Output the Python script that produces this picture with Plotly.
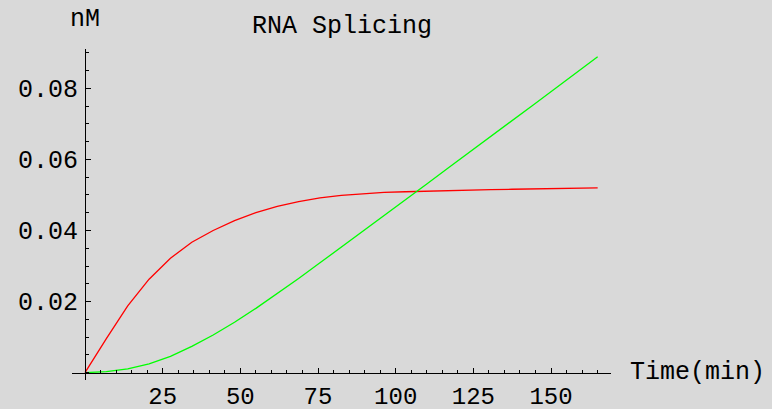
import plotly.graph_objects as go

# Data
time_min = [0, 6.875, 13.75, 20.625, 27.5, 34.375, 41.25, 48.125, 55, 61.875,
            68.75, 75.625, 82.5, 89.375, 96.25, 103.125, 110, 116.875, 123.75,
            130.625, 137.5, 144.375, 151.25, 158.125, 165]
red_series = [0, 0.0096, 0.0188, 0.0263, 0.0322, 0.0367, 0.0400, 0.0428, 0.0450,
              0.0468, 0.0481, 0.0492, 0.0499, 0.0504, 0.0507, 0.0509, 0.0511,
              0.0513, 0.0514, 0.0515, 0.0516, 0.0517, 0.0518, 0.0519, 0.0520]
green_series = [0, 0.0003, 0.0011, 0.0025, 0.0046, 0.0074, 0.0106, 0.0142, 0.0181,
                0.0222, 0.0265, 0.0309, 0.0353, 0.0397, 0.0442, 0.0487, 0.0531,
                0.0576, 0.0620, 0.0665, 0.0710, 0.0754, 0.0799, 0.0844, 0.0889]
x_tickvals = [25, 50, 75, 100, 125, 150]
x_ticktext = ["25", "50", "75", "100", "125", "150"]
y_tickvals = [0.02, 0.04, 0.06, 0.08]
y_ticktext = ["0.02", "0.04", "0.06", "0.08"]

FONT = "Nimbus Mono PS, Courier New, Courier, Liberation Mono, monospace"
FS = 25
BG = "#d9d9d9"

fig = go.Figure()
fig.add_trace(go.Scatter(x=time_min, y=red_series, mode="lines",
                         line=dict(color="#ff0000", width=1.3), showlegend=False))
fig.add_trace(go.Scatter(x=time_min, y=green_series, mode="lines",
                         line=dict(color="#00ff00", width=1.3), showlegend=False))

W, H = 772, 409
L, R, T, B = 72, 161, 49, 29
px_per_x = 3.107
px_per_y = 3555.0
ox, oy = 85, 372.7  # origin in pixels
xr = [-(ox - L) / px_per_x, (W - R - ox) / px_per_x]
yr = [-((H - B) - oy) / px_per_y, (oy - T) / px_per_y]
plot_w = W - L - R
plot_h = H - T - B

fig.update_layout(
    width=W, height=H,
    margin=dict(l=L, r=R, t=T, b=B, pad=0, autoexpand=False),
    paper_bgcolor=BG, plot_bgcolor=BG,
    font=dict(family=FONT, size=FS, color="black"),
    xaxis=dict(range=xr, anchor="free", position=((H - B) - oy) / plot_h,
               automargin=False,
               showgrid=False, zeroline=False, showline=True, linecolor="black",
               linewidth=1, tickmode="array", tickvals=x_tickvals, ticktext=x_ticktext,
               ticks="inside", ticklen=5, tickcolor="black", tickwidth=1,
               minor=dict(ticks="inside", ticklen=3, dtick=5, tick0=0,
                          tickcolor="black", showgrid=False),
               tickfont=dict(family=FONT, size=24), ticklabelstandoff=1),
    yaxis=dict(range=yr, anchor="free", position=(ox - L) / plot_w,
               automargin=False,
               showgrid=False, zeroline=False, showline=True, linecolor="black",
               linewidth=1, tickmode="array", tickvals=y_tickvals, ticktext=y_ticktext,
               ticks="inside", ticklen=5, tickcolor="black", tickwidth=1,
               minor=dict(ticks="inside", ticklen=3, dtick=0.005, tick0=0,
                          tickcolor="black", showgrid=False),
               tickfont=dict(family=FONT, size=FS), ticklabelstandoff=2),
    annotations=[
        dict(text="RNA Splicing", xref="paper", yref="paper",
             x=(341.5 - L) / plot_w, y=((H - B) - 26) / plot_h,
             xanchor="center", yanchor="middle", showarrow=False,
             font=dict(family=FONT, size=FS)),
        dict(text="nM", xref="paper", yref="paper",
             x=(ox - L) / plot_w, y=((H - B) - 20) / plot_h,
             xanchor="center", yanchor="middle", showarrow=False,
             font=dict(family=FONT, size=FS)),
        dict(text="Time(min)", xref="paper", yref="paper",
             x=(628 - L) / plot_w, y=((H - B) - 372) / plot_h,
             xanchor="left", yanchor="middle", showarrow=False,
             font=dict(family=FONT, size=FS)),
    ],
)

fig.write_html("out.html", config={"displayModeBar": False},
               post_script="document.body.style.margin='0';")
